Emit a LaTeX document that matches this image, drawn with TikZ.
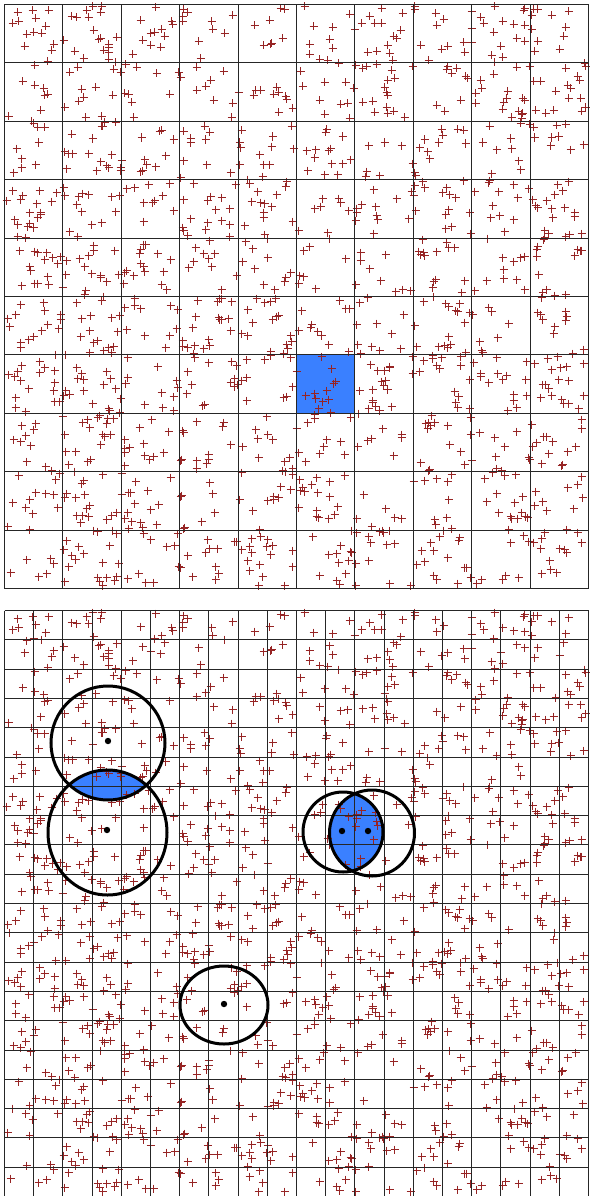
\documentclass[tikz,border=0pt]{standalone}
\definecolor{ptred}{RGB}{150,36,36}
\definecolor{cellblue}{RGB}{58,128,255}
\begin{document}
\begin{tikzpicture}[x=1pt,y=-1pt,
  pl/.style={ptred, line width=1pt},
  gridline/.style={black!85, line width=1.3pt},
  ring/.style={black, line width=3pt},
  cdot/.style={black}]
\useasboundingbox (0,0) rectangle (589,1196);
\fill[white] (0,0) rectangle (589,1196);
% highlighted cell (top)
\fill[cellblue] (296.5,354.5) rectangle (354.5,412.5);
% lens fills (bottom)
\begin{scope}
  \clip (108,743) ellipse [x radius=57, y radius=57];
  \fill[cellblue] (107.5,832.5) ellipse [x radius=59.5, y radius=62.5];
\end{scope}
\begin{scope}
  \clip (343,832) ellipse [x radius=40, y radius=40];
  \fill[cellblue] (372,833) ellipse [x radius=42.5, y radius=43];
\end{scope}
% points (same set in both panels)
\pgfmathsetseed{4242}
\foreach \i in {1,...,1300}{
  \pgfmathsetmacro\px{round(6+580*rnd)+0.5}
  \pgfmathsetmacro\py{round(6+580*rnd)+0.5}
  \pgfmathsetmacro\qy{\py+606}
  \draw[pl] (\px-4,\py) -- (\px+4,\py) (\px,\py-4) -- (\px,\py+4);
  \draw[pl] (\px-4,\qy) -- (\px+4,\qy) (\px,\qy-4) -- (\px,\qy+4);
}
% top grid 10x10
\foreach \k in {0,...,10}{
  \pgfmathsetmacro\g{round(4+58.4*\k)+0.5}
  \draw[gridline] (\g,4.5) -- (\g,588.5);
  \draw[gridline] (4.5,\g) -- (588.5,\g);
}
% bottom grid 20x20 (cut at bottom edge)
\foreach \k in {0,...,20}{
  \pgfmathsetmacro\g{round(4+29.2*\k)+0.5}
  \draw[gridline] (\g,610.5) -- (\g,1196);
}
\foreach \k in {0,...,19}{
  \pgfmathsetmacro\g{round(610+29.3*\k)+0.5}
  \draw[gridline] (4.5,\g) -- (588.5,\g);
}
% circles
\draw[ring] (108,743) ellipse [x radius=57, y radius=57];
\draw[ring] (107.5,832.5) ellipse [x radius=59.5, y radius=62.5];
\draw[ring] (343,832) ellipse [x radius=40, y radius=40];
\draw[ring] (372,833) ellipse [x radius=42.5, y radius=43];
\draw[ring] (224,1005) ellipse [x radius=44, y radius=39];
% centre dots
\fill[cdot] (108,741) circle (3.2);
\fill[cdot] (107,830) circle (3.2);
\fill[cdot] (342,831) circle (3.2);
\fill[cdot] (368,831) circle (3.2);
\fill[cdot] (224,1004) circle (3.2);
\end{tikzpicture}
\end{document}
